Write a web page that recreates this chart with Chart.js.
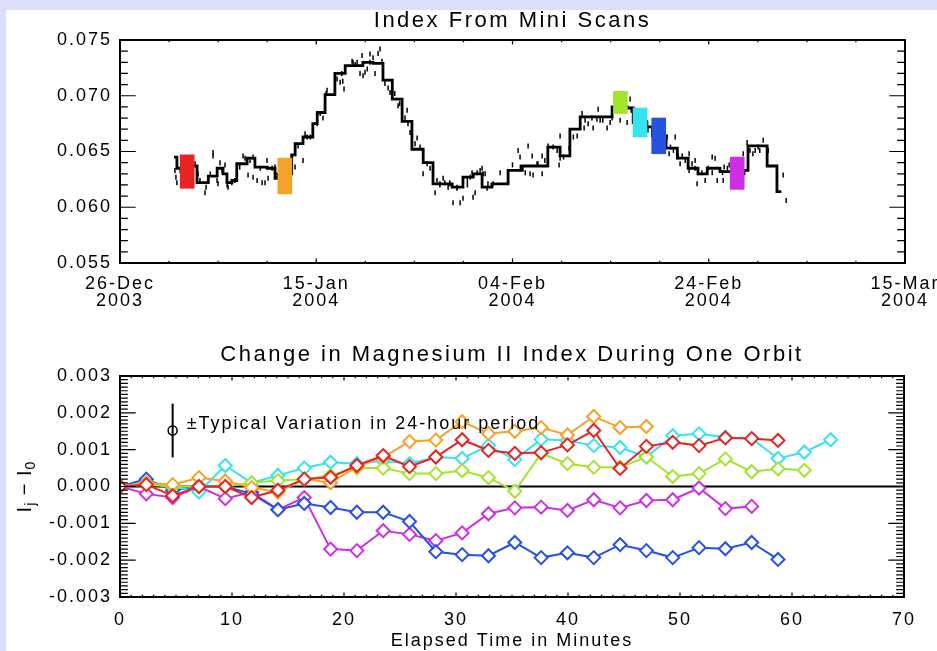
<!DOCTYPE html>
<html>
<head>
<meta charset="utf-8">
<title>Mg II index from mini scans</title>
<script src="https://cdn.jsdelivr.net/npm/chart.js@4.4.1/dist/chart.umd.min.js"></script>
<style>
  body { margin: 0; background: #dddffa; width: 937px; height: 651px; overflow: hidden; }
  #panel { position: absolute; left: 6px; top: 10px; right: 0; bottom: 0; background: #fff; }
  .box { position: absolute; left: 0; width: 937px; }
</style>
</head>
<body>
<div id="panel"></div>
<div class="box" style="top:0;height:325px"><canvas id="indexChart" width="937" height="325"></canvas></div>
<div class="box" style="top:325px;height:326px"><canvas id="orbitChart" width="937" height="326"></canvas></div>
<script>
const FONT = "'Liberation Sans', Arial, sans-serif";

// ---- top panel: index from mini scans (days after 26-Dec-2003) ----
const stepDays = [5.5, 5.8, 6.2, 7.4, 7.85, 9.0, 9.9, 10.5, 10.9, 11.4, 11.9, 12.95, 13.75, 15.0, 15.8,
  16.1, 17.5, 17.85, 18.65, 19.65, 20.1, 20.9, 21.9, 22.95, 24.75, 25.8, 26.8, 27.75, 28.75, 29.75,
  30.9, 31.9, 33.85, 34.95, 36.0, 36.9, 37.9, 39.55, 41.0, 43.6, 44.85, 45.85, 46.9, 50.15, 51.7,
  52.3, 53.7, 54.25, 55.65, 56.8, 57.9, 58.9, 59.85, 61.15, 62.3, 63.6, 64.0, 65.95, 66.95, 67.4];
const stepLevels = [0.0645, 0.0635, 0.0632, 0.0637, 0.0622, 0.0628, 0.0635, 0.0630, 0.0622, 0.0624,
  0.0639, 0.0644, 0.0636, 0.0635, 0.0626, 0.0630, 0.0647, 0.0657, 0.0663, 0.0675, 0.0685, 0.0701,
  0.0720, 0.0727, 0.0730, 0.0729, 0.0714, 0.0697, 0.0677, 0.0652, 0.0640, 0.0621, 0.0618, 0.0627,
  0.0630, 0.0618, 0.0621, 0.0633, 0.0637, 0.0654, 0.0646, 0.0670, 0.0681, 0.0690, 0.0689, 0.0676,
  0.0672, 0.0664, 0.0653, 0.0644, 0.0635, 0.0630, 0.0635, 0.0632, 0.0630, 0.0633, 0.0655, 0.0637,
  0.0614, 0.0614];

// individual scans
const scanDays = [5.7, 5.8, 7.65, 7.85, 8.66, 8.77, 9.48, 9.48, 9.89, 9.99, 10.19, 10.91, 11.01, 10.7,
  12.54, 12.74, 13.05, 13.56, 13.56, 13.97, 14.48, 14.78, 14.98, 15.09, 15.8, 17.84, 18.65, 18.86,
  19.06, 19.67, 20.69, 21.1, 21.0, 22.12, 22.43, 22.83, 23.65, 24.16, 24.46, 24.77, 24.97, 24.67,
  25.48, 25.79, 26.3, 26.5, 25.99, 27.32, 27.52, 28.34, 29.26, 29.56, 30.28, 30.58, 30.89, 32.11,
  32.6, 32.93, 33.44, 33.6, 33.94, 34.35, 34.66, 34.96, 35.4, 35.98, 36.19, 35.88, 36.9, 37.21,
  37.41, 38.02, 38.74, 40.0, 40.57, 40.77, 41.59, 42.0, 41.79, 42.1, 42.6, 43.02, 43.02, 43.63,
  44.14, 44.85, 44.85, 44.75, 45.77, 46.59, 47.09, 47.3, 47.71, 48.22, 48.73, 48.93, 49.64, 49.95,
  50.97, 51.68, 51.99, 52.09, 53.72, 55.76, 56.58, 55.96, 56.88, 57.08, 58.0, 58.0, 58.61, 58.81,
  58.92, 59.63, 59.94, 60.35, 60.65, 60.86, 61.47, 61.57, 62.08, 63.51, 63.91, 64.73, 65.04, 65.55,
  66.06, 67.58, 67.89,
  22.6, 22.7, 23.75, 23.96, 25.2, 25.48, 26.7, 27.0, 27.7, 28.0, 28.5, 29.05, 29.35, 29.77, 30.07,
  31.3, 31.6, 32.3, 32.6, 33.1, 33.6, 34.35, 35.4, 35.7, 36.4, 36.7, 37.0, 37.5, 40.8, 41.3, 42.5,
  43.3, 44.55, 45.2, 46.2, 46.9, 47.4, 48.1, 48.6, 49.2, 50.15, 53.8, 56.1, 56.4, 57.3, 57.6, 58.3,
  58.6, 59.3, 60.35, 61.4, 61.9, 64.2, 64.5, 65.2, 5.6, 7.95, 8.15, 9.2, 10.4, 11.4, 11.7, 12.2,
  13.25, 14.3, 15.5, 17.5, 18.15, 19.4, 20.1, 20.4];
const scanValues = [0.0627, 0.0622, 0.0639, 0.0631, 0.0613, 0.0618, 0.0649, 0.0646, 0.0624, 0.0621,
  0.0640, 0.0620, 0.0618, 0.0638, 0.0646, 0.0644, 0.0629, 0.0645, 0.0627, 0.0624, 0.0622, 0.0622,
  0.0642, 0.0626, 0.0636, 0.0636, 0.0642, 0.0666, 0.0663, 0.0673, 0.0680, 0.0705, 0.0702, 0.0715,
  0.0712, 0.0706, 0.0731, 0.0730, 0.0720, 0.0718, 0.0721, 0.0736, 0.07375, 0.0734, 0.0738, 0.0742,
  0.0720, 0.0707, 0.0703, 0.0691, 0.0687, 0.0667, 0.0662, 0.0654, 0.0630, 0.0613, 0.0620, 0.0626,
  0.0618, 0.0622, 0.0604, 0.0617, 0.0604, 0.0608, 0.0620, 0.0609, 0.0613, 0.0631, 0.0635, 0.0630,
  0.0617, 0.0621, 0.0631, 0.0638, 0.0651, 0.0645, 0.0655, 0.0646, 0.0630, 0.0629, 0.0639, 0.0646,
  0.0630, 0.0655, 0.0654, 0.0664, 0.0644, 0.0638, 0.0653, 0.0664, 0.0684, 0.0671, 0.0675, 0.0671,
  0.0688, 0.0678, 0.0671, 0.0676, 0.0678, 0.0676, 0.0697, 0.0687, 0.0676, 0.0663, 0.0663, 0.0648,
  0.0645, 0.0639, 0.0648, 0.0633, 0.0642, 0.0621, 0.0631, 0.0624, 0.0635, 0.0645, 0.0644, 0.0624,
  0.0624, 0.0636, 0.0638, 0.0648, 0.0658, 0.0651, 0.0654, 0.0660, 0.0651, 0.0629, 0.0606,
  0.0720, 0.0713, 0.0730, 0.0728, 0.0724, 0.0730, 0.0731, 0.0711, 0.0707, 0.0702, 0.0693, 0.0680,
  0.0675, 0.0663, 0.0657, 0.0639, 0.0635, 0.0624, 0.0621, 0.0622, 0.0621, 0.0618, 0.0624, 0.0627,
  0.0631, 0.0633, 0.0630, 0.0621, 0.0636, 0.0631, 0.0639, 0.0642, 0.0651, 0.0645, 0.0663, 0.0678,
  0.0678, 0.0680, 0.0679, 0.0678, 0.0680, 0.0669, 0.0654, 0.0651, 0.0646, 0.0642, 0.0639, 0.0635,
  0.0631, 0.0631, 0.0631, 0.0635, 0.0651, 0.0648, 0.0651, 0.0633, 0.0630, 0.0624, 0.0630, 0.0633,
  0.0622, 0.0624, 0.0636, 0.0642, 0.0635, 0.0635, 0.0645, 0.0655, 0.0663, 0.0675, 0.0684];

// days of the one-orbit runs, with the spread of their scans
const runDays = [6.85, 16.8, 51.0, 53.0, 54.9, 62.9];
const runLow = [0.0617, 0.0612, 0.0684, 0.0663, 0.0648, 0.0616];
const runHigh = [0.0647, 0.0644, 0.0704, 0.0689, 0.0680, 0.0645];
const runColors = ['#e82323', '#f5a328', '#a3e42c', '#36e4ef', '#2552e0', '#cf2fe4'];

const dateTicks = [['26-Dec', '2003'], ['15-Jan', '2004'], ['04-Feb', '2004'], ['24-Feb', '2004'], ['15-Mar', '2004']];

// ---- bottom panel: change during one orbit ----
const elapsed = [0.0, 2.35, 4.7, 7.05, 9.4, 11.75, 14.1, 16.45, 18.8, 21.15, 23.5, 25.85, 28.2, 30.55,
  32.9, 35.25, 37.6, 39.95, 42.3, 44.65, 47.0, 49.35, 51.7, 54.05, 56.4, 58.75, 61.1, 63.45];
const orbitRed = [0, 0.00005, -0.00025, 0.0, 0.0, -0.0003, -0.0001, 0.0002, 0.00025, 0.00057, 0.00084,
  0.00054, 0.0008, 0.00127, 0.00098, 0.0009, 0.00092, 0.00113, 0.00152, 0.00049, 0.00109, 0.0012,
  0.00111, 0.00132, 0.0013, 0.00125];
const orbitOrange = [0, 0.0001, 0.00005, 0.00024, 0.00015, -0.00003, -0.00015, 0.0002, 0.0001, 0.00054,
  0.0008, 0.00122, 0.00126, 0.00176, 0.00144, 0.0015, 0.0016, 0.0014, 0.0019, 0.0016, 0.00163];
const orbitGreen = [0, 0.00005, 0.0, 0.0, 0.0, 0.0001, 0.00016, 0.0002, 0.0003, 0.0005, 0.0005, 0.00035,
  0.00035, 0.00043, 0.00024, -0.00013, 0.0009, 0.00062, 0.00052, 0.00052, 0.0008, 0.00027, 0.00035,
  0.00075, 0.0004, 0.00048, 0.00044];
const orbitCyan = [0, 0.0001, 0.0, -0.00015, 0.00057, 0.0001, 0.0003, 0.0005, 0.00066, 0.00062, 0.0007,
  0.00062, 0.0008, 0.00076, 0.00111, 0.00073, 0.00128, 0.00125, 0.00111, 0.00106, 0.0008, 0.00138,
  0.00143, 0.00134, 0.0013, 0.00076, 0.00093, 0.00127];
const orbitBlue = [0, 0.0002, -0.0001, 0.0, 0.0, -0.0002, -0.00063, -0.00046, -0.00057, -0.0007, -0.0007,
  -0.00095, -0.00177, -0.00185, -0.00188, -0.00152, -0.00193, -0.0018, -0.00193, -0.00158, -0.00174,
  -0.00193, -0.00166, -0.00169, -0.00152, -0.00198];
const orbitMagenta = [0, -0.0002, -0.0003, 0.0, -0.00033, -0.00015, -0.00063, -0.0003, -0.0017, -0.00174,
  -0.0012, -0.0013, -0.00147, -0.00126, -0.00074, -0.00058, -0.00056, -0.00065, -0.00036, -0.00058,
  -0.00038, -0.00036, -0.00004, -0.0006, -0.00054];
const orbitSeries = [orbitRed, orbitOrange, orbitGreen, orbitCyan, orbitBlue, orbitMagenta];

// typical 24-hour variation marker
const typicalAt = 4.7;
const typicalMid = 0.00152;
const typicalHalf = 0.00073;

// box with inward major/minor ticks on all four sides
function idlAxes(xMajor, xMinor, yMajor, yMinor) {
  return {
    id: 'idlAxes',
    beforeDraw(chart) {
      chart.ctx.letterSpacing = '2px';
    },
    afterDatasetsDraw(chart) {
      const { ctx, chartArea: a, scales } = chart;
      const w = a.right - a.left, h = a.bottom - a.top;
      const marks = (scale, step, len) => {
        const n = Math.round((scale.max - scale.min) / step);
        for (let i = 0; i <= n; i++) {
          const p = scale.getPixelForValue(scale.min + i * step);
          if (scale.isHorizontal()) {
            ctx.moveTo(p, a.bottom); ctx.lineTo(p, a.bottom - len);
            ctx.moveTo(p, a.top); ctx.lineTo(p, a.top + len);
          } else {
            ctx.moveTo(a.left, p); ctx.lineTo(a.left + len, p);
            ctx.moveTo(a.right, p); ctx.lineTo(a.right - len, p);
          }
        }
      };
      ctx.save();
      ctx.strokeStyle = '#000';
      ctx.lineWidth = 1.2;
      ctx.beginPath();
      marks(scales.x, xMajor, 0.02 * h);
      marks(scales.x, xMinor, 0.01 * h);
      marks(scales.y, yMajor, 0.02 * w);
      marks(scales.y, yMinor, 0.01 * w);
      ctx.stroke();
      ctx.lineWidth = 2;
      ctx.strokeRect(a.left, a.top, w, h);
      ctx.restore();
    }
  };
}

// titles and notes; items are centred on the plot unless placed at a data point
function idlText(items, yTitle) {
  return {
    id: 'idlText',
    afterDraw(chart) {
      const { ctx, chartArea: a, scales } = chart;
      const cx = (a.left + a.right) / 2;
      ctx.save();
      ctx.fillStyle = '#000';
      ctx.textBaseline = 'middle';
      for (const t of items) {
        ctx.font = `${t.size}px ${FONT}`;
        ctx.letterSpacing = t.spacing + 'px';
        ctx.textAlign = t.align || 'center';
        let px = cx, py = t.top;
        if (t.at) {
          px = scales.x.getPixelForValue(t.at[0]) + t.dx;
          py = scales.y.getPixelForValue(t.at[1]) + t.dy;
        }
        ctx.fillText(t.text, px, py);
      }
      if (yTitle) {
        // I_j − I_0, reading upwards
        ctx.translate(yTitle.left, (a.top + a.bottom) / 2);
        ctx.rotate(-Math.PI / 2);
        ctx.textAlign = 'left';
        ctx.letterSpacing = '1px';
        const fontOf = p => `${p.sub ? 14 : 20}px ${FONT}`;
        let total = 0;
        for (const p of yTitle.parts) {
          ctx.font = fontOf(p);
          total += ctx.measureText(p.t).width;
        }
        let px = -total / 2;
        for (const p of yTitle.parts) {
          ctx.font = fontOf(p);
          ctx.fillText(p.t, px, p.sub ? 6 : 0);
          px += ctx.measureText(p.t).width;
        }
      }
      ctx.restore();
    }
  };
}

function fixBox(size, vertical) {
  return scale => {
    if (vertical) scale.width = size; else scale.height = size;
    scale.paddingLeft = scale.paddingRight = scale.paddingTop = scale.paddingBottom = 0;
  };
}

const tickFont = { family: FONT, size: 18 };

new Chart(document.getElementById('indexChart'), {
  type: 'line',
  data: {
    datasets: [
      {
        type: 'bar',
        data: runDays.map((d, i) => ({ x: d, y: [runLow[i], runHigh[i]] })),
        backgroundColor: runColors,
        borderWidth: 0,
        barThickness: 14,
        grouped: false
      },
      {
        data: stepDays.map((d, i) => ({ x: d, y: stepLevels[i] })),
        stepped: 'before',
        borderColor: '#000',
        borderWidth: 2.8,
        pointRadius: 0
      },
      {
        data: scanDays.map((d, i) => ({ x: d, y: scanValues[i] })),
        showLine: false,
        pointStyle: 'line',
        rotation: 90,
        pointRadius: 2.5,
        pointBorderWidth: 1.5,
        pointBorderColor: '#000'
      }
    ]
  },
  options: {
    responsive: false,
    animation: false,
    events: [],
    layout: { padding: { left: 0, right: 32, top: 40, bottom: 0 } },
    scales: {
      x: {
        type: 'linear', min: 0, max: 80, offset: false,
        grid: { display: false, drawTicks: false, offset: false },
        border: { display: false },
        ticks: {
          stepSize: 20, autoSkip: false, maxRotation: 0, padding: 12,
          color: '#000', font: { ...tickFont, lineHeight: 0.95 },
          callback: v => dateTicks[Math.round(v / 20)]
        },
        afterFit: fixBox(62, false)
      },
      y: {
        min: 0.055, max: 0.075,
        grid: { display: false, drawTicks: false },
        border: { display: false },
        ticks: {
          stepSize: 0.005, padding: 8, color: '#000', font: tickFont,
          callback: v => v.toFixed(3)
        },
        afterFit: fixBox(120, true)
      }
    },
    plugins: { legend: { display: false }, tooltip: { enabled: false } }
  },
  plugins: [
    idlAxes(20, 5, 0.005, 0.001),
    idlText([{ text: 'Index From Mini Scans', top: 21, size: 22, spacing: 2.5 }])
  ]
});

const orbitSets = orbitSeries.map((vals, k) => ({
  data: vals.map((v, i) => ({ x: elapsed[i], y: v })),
  borderColor: runColors[k],
  borderWidth: 2,
  pointStyle: 'rectRot',
  pointRadius: 6.5,
  pointBorderWidth: 2,
  pointBorderColor: runColors[k],
  pointBackgroundColor: '#fff'
}));

new Chart(document.getElementById('orbitChart'), {
  type: 'line',
  data: {
    datasets: [
      ...orbitSets,
      {
        data: [{ x: typicalAt, y: typicalMid - typicalHalf }, { x: typicalAt, y: typicalMid + typicalHalf }],
        borderColor: '#000', borderWidth: 2, pointRadius: 0
      },
      {
        data: [{ x: typicalAt, y: typicalMid }],
        showLine: false, pointStyle: 'circle', pointRadius: 4.5,
        pointBorderWidth: 1.5, pointBorderColor: '#000', pointBackgroundColor: 'rgba(0,0,0,0)'
      },
      {
        data: [{ x: 0, y: 0 }, { x: 70, y: 0 }],
        borderColor: '#000', borderWidth: 2, pointRadius: 0
      }
    ]
  },
  options: {
    responsive: false,
    animation: false,
    events: [],
    layout: { padding: { left: 0, right: 33, top: 51, bottom: 0 } },
    scales: {
      x: {
        type: 'linear', min: 0, max: 70,
        grid: { display: false, drawTicks: false },
        border: { display: false },
        ticks: {
          stepSize: 10, autoSkip: false, maxRotation: 0, padding: 12,
          color: '#000', font: tickFont,
          callback: v => v.toFixed(0)
        },
        afterFit: fixBox(54, false)
      },
      y: {
        min: -0.003, max: 0.003,
        grid: { display: false, drawTicks: false },
        border: { display: false },
        ticks: {
          stepSize: 0.001, padding: 8, color: '#000', font: tickFont,
          callback: v => (Math.abs(v) < 1e-9 ? 0 : v).toFixed(3)
        },
        afterFit: fixBox(120, true)
      }
    },
    plugins: { legend: { display: false }, tooltip: { enabled: false } }
  },
  plugins: [
    idlAxes(10, 1, 0.001, 0.0001),
    idlText([
      { text: 'Change in Magnesium II Index During One Orbit', top: 30, size: 22, spacing: 2.5 },
      { text: 'Elapsed Time in Minutes', top: 316, size: 18, spacing: 2 },
      { text: '\u00b1Typical Variation in 24-hour period', at: [typicalAt, typicalMid],
        dx: 14, dy: -6, align: 'left', size: 18, spacing: 2 }
    ], {
      left: 25,
      parts: [{ t: 'I' }, { t: 'j', sub: true }, { t: ' \u2212 ' }, { t: 'I' }, { t: '0', sub: true }]
    })
  ]
});
</script>
</body>
</html>
